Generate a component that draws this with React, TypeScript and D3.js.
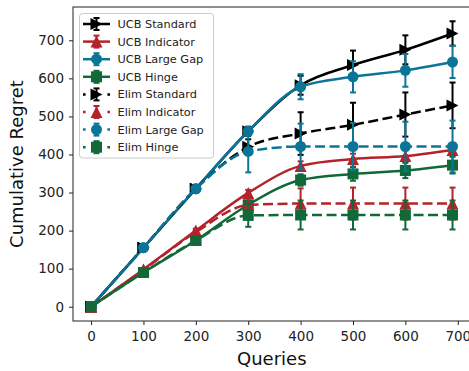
import React, { useEffect, useRef } from "react";
import * as d3 from "d3";

// query counts where the runs were evaluated
const queries = [0, 100, 200, 300, 400, 500, 600, 690];

const ucbStandard = [0, 155, 310, 461, 582, 635, 675, 718];
const ucbStandardErr = [0, 5, 8, 12, 25, 38, 38, 32];
const ucbIndicator = [0, 98, 200, 299, 370, 388, 396, 412];
const ucbIndicatorErr = [0, 3, 5, 8, 12, 14, 15, 15];
const ucbLargeGap = [0, 155, 310, 461, 578, 604, 621, 643];
const ucbLargeGapErr = [0, 4, 6, 10, 33, 41, 43, 42];
const ucbHinge = [0, 90, 174, 268, 333, 349, 358, 372];
const ucbHingeErr = [0, 3, 5, 8, 15, 18, 20, 22];

const elimStandard = [0, 155, 310, 420, 455, 478, 505, 529];
const elimStandardErr = [0, 5, 8, 20, 56, 58, 58, 60];
const elimIndicator = [0, 97, 196, 267, 271, 271, 271, 271];
const elimIndicatorErr = [0, 3, 5, 25, 40, 42, 42, 42];
const elimLargeGap = [0, 155, 310, 408, 421, 421, 421, 421];
const elimLargeGapErr = [0, 4, 6, 55, 60, 62, 65, 68];
const elimHinge = [0, 90, 174, 240, 241, 241, 241, 241];
const elimHingeErr = [0, 3, 5, 30, 38, 38, 38, 38];

const xTicks = [0, 100, 200, 300, 400, 500, 600, 700];
const yTicks = [0, 100, 200, 300, 400, 500, 600, 700];

const BLACK = "#000000";
const RED = "#b3232a";
const BLUE = "#0b7598";
const GREEN = "#116838";

type Series = {
  name: string;
  values: number[];
  errs: number[];
  color: string;
  marker: string;
  dashed: boolean;
};

const series: Series[] = [
  { name: "UCB Standard", values: ucbStandard, errs: ucbStandardErr, color: BLACK, marker: ">", dashed: false },
  { name: "UCB Indicator", values: ucbIndicator, errs: ucbIndicatorErr, color: RED, marker: "^", dashed: false },
  { name: "UCB Large Gap", values: ucbLargeGap, errs: ucbLargeGapErr, color: BLUE, marker: "o", dashed: false },
  { name: "UCB Hinge", values: ucbHinge, errs: ucbHingeErr, color: GREEN, marker: "s", dashed: false },
  { name: "Elim Standard", values: elimStandard, errs: elimStandardErr, color: BLACK, marker: ">", dashed: true },
  { name: "Elim Indicator", values: elimIndicator, errs: elimIndicatorErr, color: RED, marker: "^", dashed: true },
  { name: "Elim Large Gap", values: elimLargeGap, errs: elimLargeGapErr, color: BLUE, marker: "o", dashed: true },
  { name: "Elim Hinge", values: elimHinge, errs: elimHingeErr, color: GREEN, marker: "s", dashed: true },
];

const markerPath = (m: string, r: number) => {
  if (m === ">") return `M${r},0L${-r},${-r}L${-r},${r}Z`;
  if (m === "^") return `M0,${-r}L${r},${r}L${-r},${r}Z`;
  if (m === "s") return `M${-r},${-r}H${r}V${r}H${-r}Z`;
  return d3.arc()({ innerRadius: 0, outerRadius: r, startAngle: 0, endAngle: 2 * Math.PI }) as string;
};

const markerSize = (m: string) => (m === "o" ? 5.5 : m === "s" ? 5.5 : 6);

export default function App() {
  const svgRef = useRef<SVGSVGElement>(null);

  useEffect(() => {
    const width = 469;
    const height = 371;
    const svg = d3.select(svgRef.current);
    svg.selectAll("*").remove();
    svg.attr("width", width).attr("height", height);

    const plot = { left: 73, right: 470.6, top: 7, bottom: 321 };
    const font = "DejaVu Sans";

    const x = d3.scaleLinear().domain([-34.5, 724.5]).range([plot.left, plot.right]);
    const y = d3.scaleLinear().domain([-37.5, 787.5]).range([plot.bottom, plot.top]);

    const line = d3
      .line<number>()
      .x((d, i) => x(queries[i]))
      .y(d => y(d))
      .curve(d3.curveMonotoneX);

    const g = svg.append("g");

    series.forEach(s => {
      // error bars
      const eb = g.append("g").attr("stroke", s.color).attr("stroke-width", 2);
      s.values.forEach((v, i) => {
        const cx = x(queries[i]);
        const y1 = y(v - s.errs[i]);
        const y2 = y(v + s.errs[i]);
        eb.append("line").attr("x1", cx).attr("x2", cx).attr("y1", y1).attr("y2", y2);
        eb.append("line").attr("x1", cx - 3).attr("x2", cx + 3).attr("y1", y1).attr("y2", y1);
        eb.append("line").attr("x1", cx - 3).attr("x2", cx + 3).attr("y1", y2).attr("y2", y2);
      });

      g.append("path")
        .attr("d", line(s.values))
        .attr("fill", "none")
        .attr("stroke", s.color)
        .attr("stroke-width", 2.5)
        .attr("stroke-dasharray", s.dashed ? "10,4.5" : null);

      g.append("g")
        .selectAll("path")
        .data(s.values)
        .enter()
        .append("path")
        .attr("transform", (d, i) => `translate(${x(queries[i])},${y(d)})`)
        .attr("d", markerPath(s.marker, markerSize(s.marker)))
        .attr("fill", s.color);
    });

    // frame
    svg.append("rect")
      .attr("x", plot.left)
      .attr("y", plot.top)
      .attr("width", plot.right - plot.left)
      .attr("height", plot.bottom - plot.top)
      .attr("fill", "none")
      .attr("stroke", "#222")
      .attr("stroke-width", 1);

    const xAxis = d3.axisBottom(x).tickValues(xTicks).tickSize(4).tickPadding(6.5);
    const yAxis = d3.axisLeft(y).tickValues(yTicks).tickSize(4).tickPadding(5);

    const xg = svg.append("g").attr("transform", `translate(0,${plot.bottom})`).call(xAxis);
    const yg = svg.append("g").attr("transform", `translate(${plot.left},0)`).call(yAxis);
    [xg, yg].forEach(a => {
      a.select(".domain").remove();
      a.selectAll("line").attr("stroke", "#222");
      a.selectAll("text").attr("fill", "#222").style("font-family", font).style("font-size", "13.5px");
    });

    svg.append("text")
      .attr("x", (plot.left + plot.right) / 2)
      .attr("y", 365)
      .attr("text-anchor", "middle")
      .style("font-family", font)
      .style("font-size", "18px")
      .attr("fill", "#111")
      .text("Queries");

    svg.append("text")
      .attr("text-anchor", "middle")
      .attr("transform", `translate(22.5,${(plot.top + plot.bottom) / 2}) rotate(-90)`)
      .style("font-family", font)
      .style("font-size", "18px")
      .attr("fill", "#111")
      .text("Cumulative Regret");

    // legend
    const legend = svg.append("g");
    legend.append("rect")
      .attr("x", 79.5)
      .attr("y", 13.5)
      .attr("width", 134)
      .attr("height", 144.5)
      .attr("rx", 3)
      .attr("fill", "white")
      .attr("fill-opacity", 0.8)
      .attr("stroke", "#cccccc");

    series.forEach((s, i) => {
      const cy = 24 + i * 17.6;
      const row = legend.append("g");
      row.append("line")
        .attr("x1", 83).attr("x2", 110).attr("y1", cy).attr("y2", cy)
        .attr("stroke", s.color)
        .attr("stroke-width", 2.5)
        .attr("stroke-dasharray", s.dashed ? "2.6,21.8,2.6" : null);
      const eb = row.append("g").attr("stroke", s.color).attr("stroke-width", 2);
      eb.append("line").attr("x1", 96.5).attr("x2", 96.5).attr("y1", cy - 6).attr("y2", cy + 6);
      eb.append("line").attr("x1", 93.5).attr("x2", 99.5).attr("y1", cy - 6).attr("y2", cy - 6);
      eb.append("line").attr("x1", 93.5).attr("x2", 99.5).attr("y1", cy + 6).attr("y2", cy + 6);
      row.append("path")
        .attr("transform", `translate(96.5,${cy})`)
        .attr("d", markerPath(s.marker, markerSize(s.marker)))
        .attr("fill", s.color);
      row.append("text")
        .attr("x", 117.5)
        .attr("y", cy)
        .attr("dy", "0.36em")
        .style("font-family", font)
        .style("font-size", "11.3px")
        .attr("fill", "#222")
        .text(s.name);
    });
  }, []);

  return (
    <div style={{ position: "absolute", left: 0, top: 0 }}>
      <svg ref={svgRef} style={{ display: "block" }}></svg>
    </div>
  );
}
